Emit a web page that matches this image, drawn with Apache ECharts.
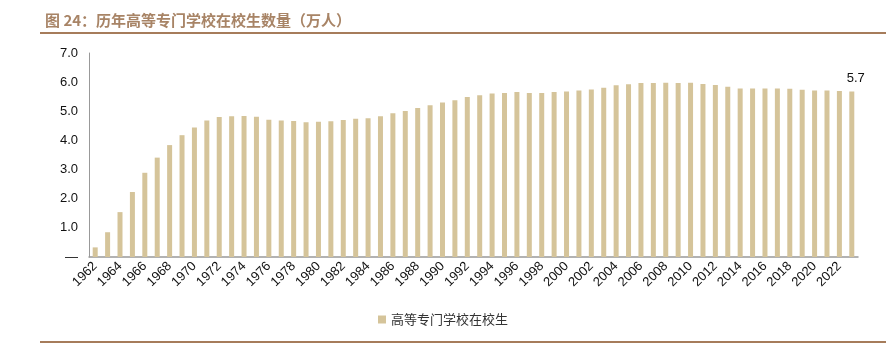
<!DOCTYPE html>
<html>
<head>
<meta charset="utf-8">
<script src="https://cdn.jsdelivr.net/npm/echarts@6/dist/echarts.min.js"></script>
<style>
    html, body {
        margin: 0;
        padding: 0;
        background: #fff;
    }

    #chart {
        width: 886px;
        height: 352px;
    }
</style>
</head>
<body>
<div id="chart"></div>
<script>
// 年份
var years = [];
for (var y = 1962; y <= 2023; y++) years.push(String(y));

// 高等专门学校在校生（万人）
var students = [
    0.33, 0.85, 1.54, 2.23, 2.89, 3.41, 3.84, 4.18, 4.44, 4.68,
    4.80, 4.83, 4.84, 4.81, 4.71, 4.68, 4.67, 4.62, 4.64, 4.66,
    4.70, 4.74, 4.76, 4.83, 4.93, 5.01, 5.11, 5.21, 5.30, 5.38,
    5.49, 5.55, 5.61, 5.63, 5.66, 5.63, 5.63, 5.66, 5.68, 5.71,
    5.75, 5.81, 5.89, 5.93, 5.97, 5.97, 5.98, 5.97, 5.98, 5.94,
    5.90, 5.84, 5.78, 5.78, 5.78, 5.78, 5.77, 5.74, 5.71, 5.71,
    5.70, 5.68
];

// y轴刻度
var yTicks = ['—', '1.0', '2.0', '3.0', '4.0', '5.0', '6.0', '7.0'];

var seriesName = '高等专门学校在校生';
var titleText = '图 24：历年高等专门学校在校生数量（万人）';

var myChart = echarts.init(document.getElementById('chart'));

var option = {
    animation: false,
    title: {
        text: titleText,
        left: 40,
        top: 8,
        textStyle: {
            color: '#A88466',
            fontSize: 15,
            fontWeight: 'bold',
            fontFamily: 'Noto Sans CJK SC'
        }
    },
    legend: {
        data: [seriesName],
        left: 'center',
        top: 308,
        itemWidth: 8,
        itemHeight: 8,
        icon: 'rect',
        itemGap: 4,
        textStyle: {
            color: '#333',
            fontSize: 13,
            fontFamily: 'Noto Sans CJK SC'
        }
    },
    grid: {
        left: 89,
        right: 28,
        top: 53,
        bottom: 95
    },
    xAxis: {
        type: 'category',
        data: years,
        axisLine: {
            lineStyle: { color: '#999', width: 1.5 }
        },
        axisTick: {
            inside: true,
            length: 3,
            lineStyle: { color: '#999' }
        },
        axisLabel: {
            interval: 1,
            rotate: 45,
            color: '#111',
            fontSize: 13,
            margin: 7,
            fontFamily: 'Liberation Sans'
        }
    },
    yAxis: {
        type: 'value',
        min: 0,
        max: 7,
        interval: 1,
        splitLine: { show: false },
        axisLine: {
            show: true,
            lineStyle: { color: '#999' }
        },
        axisTick: { show: false },
        axisLabel: {
            color: '#111',
            fontSize: 13,
            margin: 11,
            fontFamily: 'Liberation Sans',
            formatter: function (v) {
                return yTicks[Math.round(v)];
            }
        }
    },
    series: [
        {
            name: seriesName,
            type: 'bar',
            barWidth: 5,
            data: students,
            itemStyle: { color: '#D5C49A' },
            label: {
                show: true,
                position: 'top',
                color: '#111',
                fontSize: 13,
                fontFamily: 'Liberation Sans',
                offset: [4, -2],
                formatter: function (p) {
                    return p.dataIndex === students.length - 1 ? p.value.toFixed(1) : '';
                }
            }
        }
    ],
    graphic: [
        {
            type: 'rect',
            shape: { x: 40, y: 32, width: 846, height: 2 },
            style: { fill: '#A67C5B' }
        },
        {
            type: 'rect',
            shape: { x: 40, y: 341, width: 846, height: 2 },
            style: { fill: '#A67C5B' }
        }
    ]
};

// 绘制图表
myChart.setOption(option);
</script>
</body>
</html>
